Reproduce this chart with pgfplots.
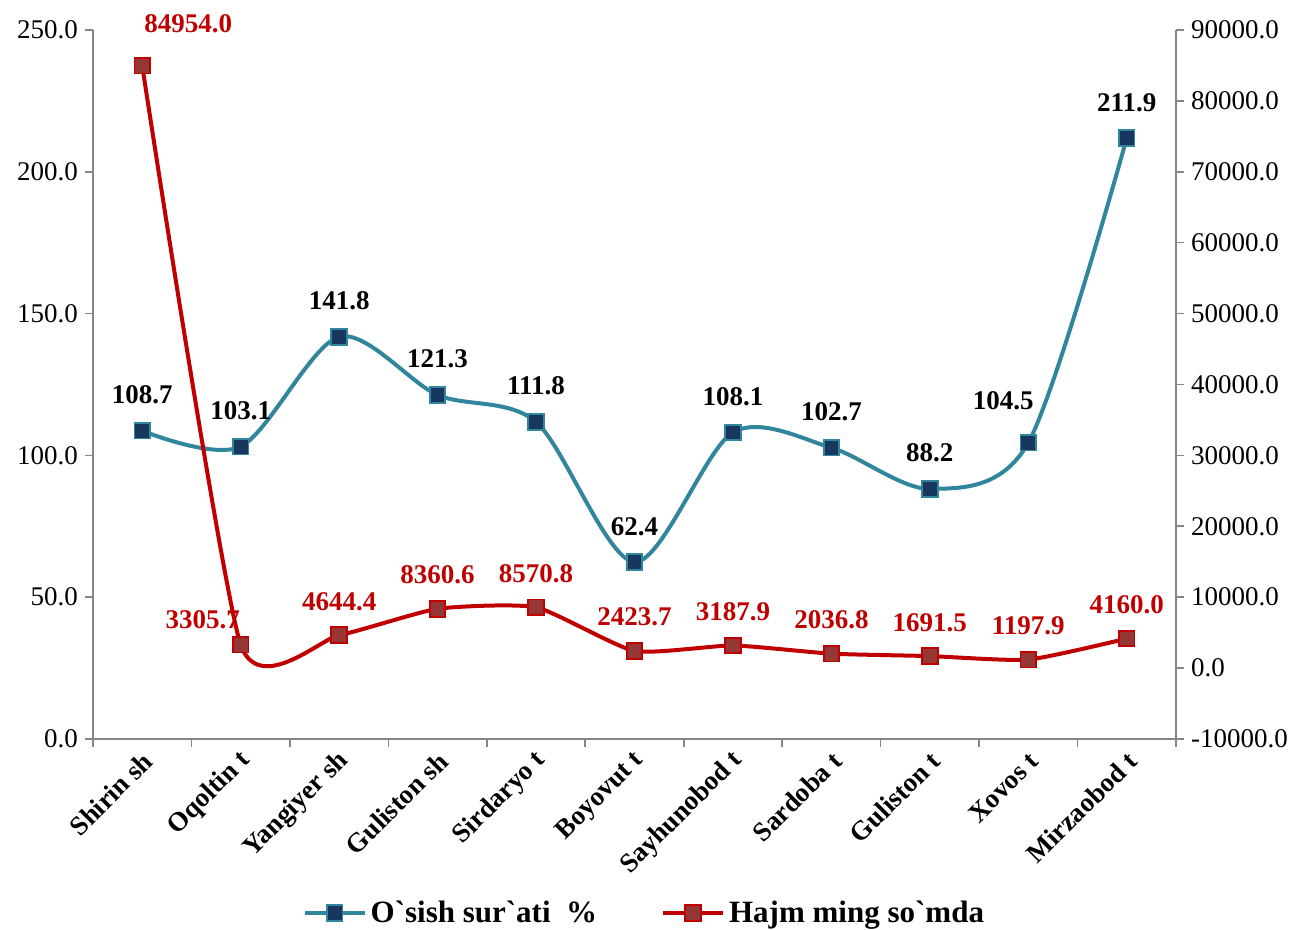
\documentclass[border=0pt]{standalone}
\usepackage{pgfplots}
\pgfplotsset{compat=1.18}
\usepackage{fontspec}
\setmainfont{Liberation Serif}

\definecolor{tealline}{HTML}{31859C}
\definecolor{navymark}{HTML}{17375E}
\definecolor{redline}{HTML}{C00000}
\definecolor{redmark}{HTML}{953735}
\definecolor{axisgray}{HTML}{868686}

\pgfplotsset{
  common/.style={
    scale only axis, width=541.5pt, height=354.5pt,
    xmin=-0.5, xmax=10.5,
    axis line style={axisgray, line width=0.8pt},
    tick style={axisgray, line width=0.8pt},
    tick align=outside,
    major tick length=4pt, minor tick length=4pt,
    ticklabel style={font=\fontsize{13.5}{15}\selectfont, text=black},
    scaled y ticks=false,
    /pgf/number format/fixed,
    /pgf/number format/fixed zerofill,
    /pgf/number format/precision=1,
    /pgf/number format/1000 sep={},
    /pgf/number format/assume math mode=true,
    legend image code/.code={\draw[mark repeat=2,mark phase=2] plot coordinates {(0pt,0pt)(15pt,0pt)(30pt,0pt)};},
  },
  blueser/.style={tealline, line width=2pt, smooth, mark=square*,
    mark size=3.9pt, mark options={fill=navymark, draw=tealline, line width=0.9pt}},
  redser/.style={redline, line width=2pt, smooth, tension=0.33, mark=square*,
    mark size=3.9pt, mark options={fill=redmark, draw=redline, line width=0.9pt}},
}

\begin{document}
\begin{tikzpicture}
\useasboundingbox (-46.5pt,-95.5pt) rectangle (601.5pt,369.5pt);
% left axis: growth rate, %
\begin{axis}[common,
  axis y line*=left, axis x line*=bottom,
  ymin=0, ymax=250, ytick={0,50,...,250},
  xtick={0,...,10},
  xticklabels={Shirin sh, Oqoltin t, Yangiyer sh, Guliston sh, Sirdaryo t, Boyovut t, Sayhunobod t, Sardoba t, Guliston t, Xovos t, Mirzaobod t},
  major x tick style={draw=none},
  minor xtick={-0.5,0.5,...,10.5},
  xticklabel style={rotate=45, anchor=east, xshift=2pt, yshift=-5.5pt,
    font=\bfseries\fontsize{13.5}{15}\selectfont},
  nodes near coords,
  every node near coord/.append style={font=\bfseries\fontsize{13.5}{15}\selectfont, text=black,
    anchor=base, inner sep=0pt, yshift=13.5pt},
  coordinate style/.condition={\coordindex==9}{xshift=-12.5pt, yshift=3pt},
]
\addplot[blueser] coordinates {
  (0,108.7) (1,103.1) (2,141.8) (3,121.3) (4,111.8) (5,62.4)
  (6,108.1) (7,102.7) (8,88.2) (9,104.5) (10,211.9)};
\end{axis}
% right axis: volume, thousand so'm
\begin{axis}[common,
  axis y line*=right, axis x line=none,
  ymin=-10000, ymax=90000, ytick={-10000,0,...,90000},
  nodes near coords,
  every node near coord/.append style={font=\bfseries\fontsize{13.5}{15}\selectfont, text=redline,
    anchor=base, inner sep=0pt, yshift=12.5pt},
  coordinate style/.condition={\coordindex==0}{xshift=23pt, yshift=4pt},
  coordinate style/.condition={\coordindex==1}{xshift=-19pt, yshift=-4.5pt},
  legend style={draw=none, fill=none, at={(0.51,-0.2454)}, anchor=center,
    legend columns=2, font=\bfseries\fontsize{15.5}{17}\selectfont,
    /tikz/every even column/.append style={column sep=30pt}},
]
\addlegendimage{blueser}
\addlegendentry{O\textasciigrave sish sur\textasciigrave ati~~\%}
\addplot[redser] coordinates {
  (0,84954.0) (1,3305.7) (2,4644.4) (3,8360.6) (4,8570.8) (5,2423.7)
  (6,3187.9) (7,2036.8) (8,1691.5) (9,1197.9) (10,4160.0)};
\addlegendentry{Hajm ming so\textasciigrave mda}
\end{axis}
\end{tikzpicture}
\end{document}
